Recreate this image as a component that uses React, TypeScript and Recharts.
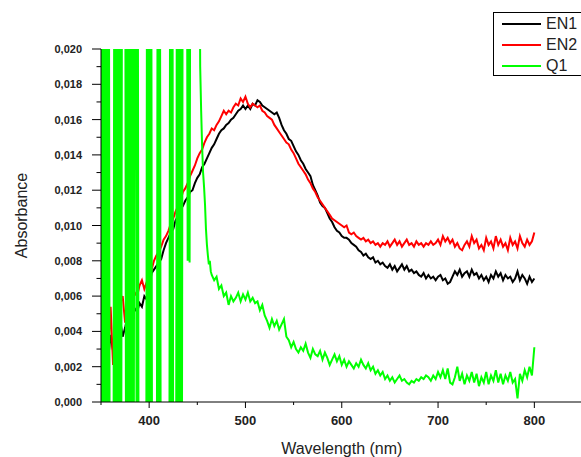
import React from 'react';
import { LineChart, Line, XAxis, YAxis, Legend, Label } from 'recharts';

// ---- Data -----------------------------------------------------------------
// EN1 / EN2 sampled every 2.5 nm starting at 355 nm
const EN_START = 355;
const EN_STEP = 2.5;

const EN1 = [
  0.0032, 0.0025, 0.0038, 0.0029, 0.0044, 0.0040, 0.0046, 0.0037, 0.0042, 0.0048, // 355
  0.0050, 0.0047, 0.0053, 0.0051, 0.0056, 0.0054, 0.0060, 0.0058, 0.0064, 0.0073, // 380
  0.0075, 0.0077, 0.0079, 0.0081, 0.0086, 0.0090, 0.0093, 0.0096, 0.0098, 0.0103, // 405
  0.0105, 0.0109, 0.0111, 0.0114, 0.0116, 0.0119, 0.0120, 0.0124, 0.0127, 0.0129, // 430
  0.0133, 0.0135, 0.0138, 0.0141, 0.0144, 0.0146, 0.0149, 0.0152, 0.0154, 0.0155, // 455
  0.0157, 0.0158, 0.0160, 0.0161, 0.0163, 0.0165, 0.0166, 0.0168, 0.0166, 0.0168, // 480
  0.0166, 0.0169, 0.0168, 0.0171, 0.0170, 0.0168, 0.0167, 0.0166, 0.0165, 0.0164, // 505
  0.0163, 0.0164, 0.0161, 0.0157, 0.0154, 0.0152, 0.0149, 0.0148, 0.0145, 0.0142, // 530
  0.0140, 0.0137, 0.0135, 0.0132, 0.0130, 0.0128, 0.0123, 0.0120, 0.0117, 0.0113, // 555
  0.0111, 0.0110, 0.0107, 0.0104, 0.0102, 0.0099, 0.0097, 0.0096, 0.0094, 0.0093, // 580
  0.0093, 0.0092, 0.0090, 0.0089, 0.0088, 0.0086, 0.0085, 0.0083, 0.0084, 0.0082, // 605
  0.0081, 0.0082, 0.0079, 0.0080, 0.0078, 0.0079, 0.0077, 0.0076, 0.0078, 0.0075, // 630
  0.0077, 0.0074, 0.0076, 0.0078, 0.0075, 0.0077, 0.0074, 0.0075, 0.0073, 0.0074, // 655
  0.0072, 0.0071, 0.0073, 0.0070, 0.0072, 0.0070, 0.0071, 0.0069, 0.0071, 0.0072, // 680
  0.0069, 0.0070, 0.0067, 0.0068, 0.0071, 0.0074, 0.0072, 0.0075, 0.0071, 0.0073, // 705
  0.0074, 0.0071, 0.0075, 0.0072, 0.0073, 0.0070, 0.0072, 0.0069, 0.0071, 0.0068, // 730
  0.0072, 0.0070, 0.0074, 0.0071, 0.0073, 0.0069, 0.0072, 0.0070, 0.0071, 0.0068, // 755
  0.0070, 0.0074, 0.0069, 0.0072, 0.0070, 0.0067, 0.0071, 0.0068,                 // 780
  0.0070,                                                                         // 800
];

const EN2 = [
  0.0040, 0.0028, 0.0054, 0.0021, 0.0045, 0.0050, 0.0056, 0.0060, 0.0045, 0.0052, // 355
  0.0058, 0.0055, 0.0062, 0.0060, 0.0066, 0.0069, 0.0064, 0.0068, 0.0070, 0.0075, // 380
  0.0080, 0.0083, 0.0085, 0.0088, 0.0092, 0.0094, 0.0097, 0.0101, 0.0104, 0.0108, // 405
  0.0111, 0.0114, 0.0119, 0.0121, 0.0124, 0.0128, 0.0131, 0.0134, 0.0138, 0.0141, // 430
  0.0143, 0.0147, 0.0150, 0.0152, 0.0155, 0.0154, 0.0157, 0.0159, 0.0162, 0.0165, // 455
  0.0163, 0.0165, 0.0164, 0.0167, 0.0169, 0.0168, 0.0172, 0.0170, 0.0173, 0.0169, // 480
  0.0167, 0.0169, 0.0168, 0.0167, 0.0168, 0.0165, 0.0164, 0.0162, 0.0161, 0.0160, // 505
  0.0157, 0.0155, 0.0153, 0.0151, 0.0149, 0.0147, 0.0146, 0.0143, 0.0141, 0.0138, // 530
  0.0135, 0.0133, 0.0131, 0.0129, 0.0126, 0.0124, 0.0121, 0.0119, 0.0116, 0.0114, // 555
  0.0112, 0.0110, 0.0108, 0.0106, 0.0104, 0.0103, 0.0102, 0.0101, 0.0100, 0.0099, // 580
  0.0100, 0.0096, 0.0095, 0.0096, 0.0094, 0.0093, 0.0092, 0.0093, 0.0091, 0.0092, // 605
  0.0090, 0.0091, 0.0089, 0.0090, 0.0088, 0.0090, 0.0089, 0.0091, 0.0088, 0.0090, // 630
  0.0092, 0.0089, 0.0091, 0.0088, 0.0090, 0.0092, 0.0089, 0.0090, 0.0088, 0.0091, // 655
  0.0089, 0.0090, 0.0088, 0.0090, 0.0089, 0.0091, 0.0089, 0.0090, 0.0092, 0.0089, // 680
  0.0094, 0.0091, 0.0093, 0.0090, 0.0092, 0.0088, 0.0090, 0.0087, 0.0086, 0.0089, // 705
  0.0091, 0.0088, 0.0094, 0.0090, 0.0092, 0.0087, 0.0089, 0.0086, 0.0093, 0.0089, // 730
  0.0091, 0.0087, 0.0094, 0.0089, 0.0092, 0.0088, 0.0090, 0.0086, 0.0093, 0.0089, // 755
  0.0091, 0.0087, 0.0094, 0.0090, 0.0088, 0.0092, 0.0089, 0.0091,                 // 780
  0.0096,                                                                         // 800
];

// Q1: noisy off-scale region sampled every 1 nm from 350 nm to 465 nm
const Q1_SPIKE_START = 350;
const Q1_SPIKE_STEP = 1;
const Q1_SPIKE = [
  0.035,                                                                      // 350
  -0.005, 0.035, -0.005, 0.035, -0.005, 0.035, -0.005, 0.035, -0.005,        // 351-359
  -0.005, -0.005, -0.005, -0.005,                                             // 360-363
  0.035, -0.005, 0.035, -0.005, 0.035, -0.005, 0.035, -0.005, 0.035,          // 364-372
  0.035, 0.035, 0.035,                                                        // 373-375
  -0.005, 0.035, -0.005, 0.035, -0.005, 0.035, -0.005, 0.035, -0.005, 0.035,  // 376-385
  0.035,                                                                      // 386
  -0.005, 0.035, -0.005,                                                      // 387-389
  -0.005, -0.005, -0.005, -0.005, -0.005, -0.005, -0.005, -0.005,             // 390-397
  0.035, -0.005, 0.035, -0.005, 0.035, -0.005,                                // 398-403
  -0.005, -0.005, -0.005, -0.005, -0.005,                                     // 404-408
  0.035, -0.005, 0.035, -0.005,                                               // 409-412
  -0.005, -0.005, -0.005, -0.005, -0.005, -0.005, -0.005, -0.005, -0.005,     // 413-421
  0.035, -0.005, 0.035, -0.005,                                               // 422-425
  -0.005, -0.005, -0.005,                                                     // 426-428
  0.035, -0.005, 0.035, -0.005, 0.035, -0.005,                                // 429-434
  0.035, 0.035, 0.035, 0.035, 0.035,                                          // 435-439
  0.0080, 0.035, 0.0079, 0.035,                                               // 440-443
  0.035, 0.035, 0.035, 0.035, 0.035, 0.035, 0.035, 0.035,                     // 444-451
  0.030, 0.019, 0.0165, 0.0145, 0.0130, 0.0122, 0.0112, 0.0098, 0.0089,       // 452-460
  0.0083, 0.0078, 0.0080, 0.0074, 0.0072,                                     // 461-465
];

// Q1: remaining part sampled every 2.5 nm from 467.5 nm
const Q1_TAIL_START = 467.5;
const Q1_TAIL_STEP = 2.5;
const Q1_TAIL = [
  0.0069, 0.0071, 0.0064, 0.0066, 0.0060, 0.0062, 0.0055, 0.0060, 0.0057, 0.0059, // 467.5
  0.0062, 0.0057, 0.0061, 0.0058, 0.0062, 0.0057, 0.0059, 0.0056, 0.0057, 0.0052, // 492.5
  0.0055, 0.0049, 0.0046, 0.0042, 0.0047, 0.0043, 0.0046, 0.0041, 0.0044, 0.0047, // 517.5
  0.0037, 0.0035, 0.0031, 0.0034, 0.0030, 0.0028, 0.0031, 0.0029, 0.0033, 0.0028, // 542.5
  0.0025, 0.0030, 0.0027, 0.0026, 0.0029, 0.0024, 0.0028, 0.0025, 0.0021, 0.0024, // 567.5
  0.0027, 0.0023, 0.0026, 0.0021, 0.0024, 0.0020, 0.0023, 0.0021, 0.0019, 0.0022, // 592.5
  0.0020, 0.0024, 0.0021, 0.0019, 0.0022, 0.0018, 0.0020, 0.0016, 0.0018, 0.0015, // 617.5
  0.0017, 0.0013, 0.0015, 0.0012, 0.0014, 0.0011, 0.0013, 0.0015, 0.0012, 0.0013, // 642.5
  0.0011, 0.0010, 0.0012, 0.0011, 0.0013, 0.0012, 0.0014, 0.0013, 0.0015, 0.0014, // 667.5
  0.0012, 0.0015, 0.0013, 0.0017, 0.0014, 0.0018, 0.0013, 0.0019, 0.0011, 0.0010, // 692.5
  0.0014, 0.0020, 0.0012, 0.0016, 0.0010, 0.0015, 0.0012, 0.0017, 0.0011, 0.0016, // 717.5
  0.0009, 0.0014, 0.0011, 0.0017, 0.0010, 0.0015, 0.0012, 0.0018, 0.0011, 0.0016, // 742.5
  0.0010, 0.0015, 0.0012, 0.0017, 0.0011, 0.0013, 0.0002, 0.0016, 0.0012, 0.0018, // 767.5
  0.0014, 0.0020, 0.0015, 0.0031,                                                 // 792.5
];

const X_TICKS = [350, 400, 450, 500, 550, 600, 650, 700, 750, 800, 850];
const Y_TICKS = [
  0, 0.001, 0.002, 0.003, 0.004, 0.005, 0.006, 0.007, 0.008, 0.009, 0.01,
  0.011, 0.012, 0.013, 0.014, 0.015, 0.016, 0.017, 0.018, 0.019, 0.02,
];
const SERIES_NAMES = ['EN1', 'EN2', 'Q1'];
const SERIES_COLORS = ['#000000', '#ff0000', '#00ff00'];

// ---- Build tables ------------------------------------------------------------
const en1Data = EN1.map((v, i) => ({ nm: EN_START + i * EN_STEP, v }));
const en2Data = EN2.map((v, i) => ({ nm: EN_START + i * EN_STEP, v }));
const q1Data = [
  ...Q1_SPIKE.map((v, i) => ({ nm: Q1_SPIKE_START + i * Q1_SPIKE_STEP, v })),
  ...Q1_TAIL.map((v, i) => ({ nm: Q1_TAIL_START + i * Q1_TAIL_STEP, v })),
];
const seriesData = [en1Data, en2Data, q1Data];

const FONT = 'Arial, "Liberation Sans", sans-serif';

const XTick = (props: any) => {
  const { x, y, payload } = props;
  const v = payload.value;
  const major = v % 100 === 0;
  return (
    <g>
      <line x1={x} x2={x} y1={y} y2={y + (major ? 6 : 3)} stroke="#000" strokeWidth={1} />
      {major && (
        <text x={x} y={y + 23} textAnchor="middle" fontSize={13} fontWeight="bold" fill="#222" fontFamily={FONT}>
          {v}
        </text>
      )}
    </g>
  );
};

const YTick = (props: any) => {
  const { x, y, payload } = props;
  const v = payload.value;
  const major = Math.round(v * 1000) % 2 === 0;
  return (
    <g>
      <line x1={x - (major ? 9 : 4.5)} x2={x} y1={y} y2={y} stroke="#000" strokeWidth={1} />
      {major && (
        <text x={x - 19} y={y + 4} textAnchor="end" fontSize={11} fontWeight="bold" fill="#222" fontFamily={FONT}>
          {v.toFixed(3).replace('.', ',')}
        </text>
      )}
    </g>
  );
};

const XTitle = (props: any) => {
  const vb = props.viewBox;
  return (
    <text x={vb.x + vb.width / 2} y={vb.y + 52} textAnchor="middle" fontSize={16} fill="#222" fontFamily={FONT}>
      Wavelength (nm)
    </text>
  );
};

const YTitle = (props: any) => {
  const vb = props.viewBox;
  const cx = vb.x + 27;
  const cy = vb.y + vb.height / 2 - 10;
  return (
    <text x={cx} y={cy} transform={`rotate(-90, ${cx}, ${cy})`} textAnchor="middle" fontSize={16} fill="#222" fontFamily={FONT}>
      Absorbance
    </text>
  );
};

const LegendBox = () => (
  <div
    style={{
      boxSizing: 'border-box',
      width: 110,
      height: 64,
      border: '1px solid #000',
      background: '#fff',
      position: 'relative',
      fontFamily: FONT,
    }}
  >
    {SERIES_NAMES.map((name, i) => (
      <div key={name} style={{ position: 'absolute', left: 0, top: 11 + i * 21, width: 110 }}>
        <div style={{ position: 'absolute', left: 8, top: -1, width: 39, height: 2, background: SERIES_COLORS[i] }} />
        <div style={{ position: 'absolute', left: 52, top: -10, fontSize: 16, lineHeight: '20px', color: '#222' }}>
          {name}
        </div>
      </div>
    ))}
  </div>
);

export default function App() {
  return (
    <div style={{ position: 'absolute', left: 0, top: 0, width: 581, height: 457, overflow: 'hidden', background: '#fff' }}>
      <LineChart width={600} height={457} margin={{ top: 49, right: 17.5, bottom: 0, left: 0 }}>
        <XAxis
          dataKey="nm"
          type="number"
          domain={[350, 850]}
          allowDataOverflow
          ticks={X_TICKS}
          interval={0}
          tick={<XTick />}
          tickLine={false}
          tickSize={0}
          tickMargin={0}
          axisLine={{ stroke: '#000', strokeWidth: 1 }}
          height={55}
        >
          <Label content={<XTitle />} />
        </XAxis>
        <YAxis
          type="number"
          domain={[0, 0.02]}
          allowDataOverflow
          ticks={Y_TICKS}
          interval={0}
          tick={<YTick />}
          tickLine={false}
          tickSize={0}
          tickMargin={0}
          axisLine={{ stroke: '#000', strokeWidth: 1 }}
          width={101}
        >
          <Label content={<YTitle />} />
        </YAxis>
        <Legend
          content={<LegendBox />}
          layout="horizontal"
          verticalAlign="middle"
          align="center"
          wrapperStyle={{ position: 'absolute', left: 493, top: 12, width: 110, height: 64 }}
        />
        {SERIES_NAMES.map((name, i) => (
          <Line
            key={name}
            name={name}
            data={seriesData[i]}
            dataKey="v"
            type="linear"
            stroke={SERIES_COLORS[i]}
            strokeWidth={2}
            dot={false}
            activeDot={false}
            isAnimationActive={false}
          />
        ))}
      </LineChart>
    </div>
  );
}
